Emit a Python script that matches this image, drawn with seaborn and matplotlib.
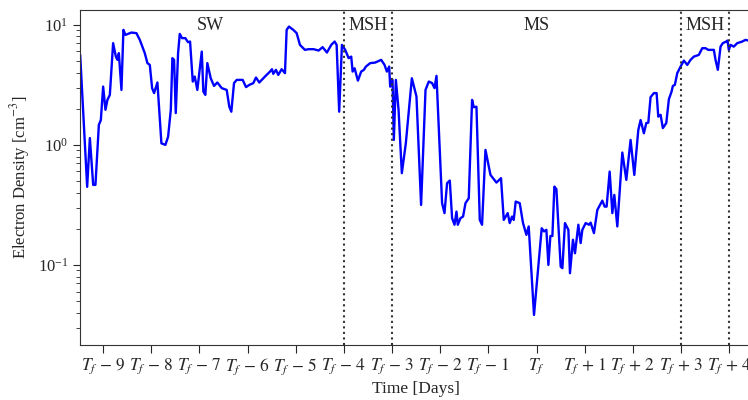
import pandas as pd
import matplotlib
matplotlib.use('Agg')
import matplotlib.pyplot as plt
import seaborn as sns

# Tempo relativo a T_f (dias) e densidade eletrônica (cm^-3)
tempo = [
    -9.477, -9.332, -9.276, -9.207, -9.160, -9.089, -9.048, -9.000, -8.952, -8.911,
    -8.861, -8.793, -8.736, -8.703, -8.674, -8.620, -8.579, -8.537, -8.413, -8.309,
    -8.239, -8.135, -8.081, -8.031, -7.983, -7.942, -7.873, -7.790, -7.707, -7.651,
    -7.595, -7.562, -7.527, -7.492, -7.444, -7.409, -7.361, -7.293, -7.237, -7.195,
    -7.139, -7.098, -7.044, -6.952, -6.919, -6.878, -6.836, -6.766, -6.697, -6.629,
    -6.537, -6.434, -6.380, -6.338, -6.282, -6.226, -6.102, -6.033, -5.965, -5.882,
    -5.826, -5.757, -5.639, -5.535, -5.494, -5.467, -5.411, -5.363, -5.293, -5.224,
    -5.189, -5.141, -5.052, -4.981, -4.913, -4.809, -4.732, -4.629, -4.525, -4.442,
    -4.353, -4.263, -4.193, -4.151, -4.098, -4.041, -3.973, -3.902, -3.848, -3.819,
    -3.778, -3.709, -3.641, -3.585, -3.544, -3.454, -3.351, -3.226, -3.156, -3.108,
    -3.060, -3.039, -2.990, -2.963, -2.921, -2.865, -2.797, -2.714, -2.589, -2.493,
    -2.397, -2.305, -2.237, -2.168, -2.118, -2.077, -1.961, -1.911, -1.857, -1.801,
    -1.753, -1.703, -1.662, -1.635, -1.579, -1.525, -1.475, -1.407, -1.338, -1.303,
    -1.247, -1.178, -1.131, -1.060, -0.956, -0.832, -0.737, -0.680, -0.598, -0.556,
    -0.508, -0.473, -0.432, -0.349, -0.280, -0.210, -0.162, -0.052, 0.108, 0.156,
    0.205, 0.247, 0.288, 0.330, 0.371, 0.413, 0.502, 0.537, 0.591, 0.662,
    0.695, 0.757, 0.799, 0.869, 0.917, 0.952, 1.021, 1.089, 1.124, 1.193,
    1.263, 1.367, 1.415, 1.456, 1.519, 1.575, 1.616, 1.678, 1.782, 1.865,
    1.954, 2.031, 2.114, 2.162, 2.230, 2.280, 2.322, 2.369, 2.438, 2.494,
    2.529, 2.577, 2.624, 2.695, 2.749, 2.805, 2.832, 2.873, 2.923, 2.992,
    3.060, 3.131, 3.199, 3.268, 3.371, 3.442, 3.510, 3.566, 3.683, 3.718,
    3.766, 3.822, 3.869, 3.940, 3.967, 3.994, 4.029, 4.098, 4.168, 4.272,
    4.340, 4.402,
]
densidade = [
    5.62, 0.447, 1.14, 0.464, 0.464, 1.47, 1.61, 3.06, 1.96, 2.37,
    2.61, 7.04, 5.44, 5.11, 5.81, 2.87, 9.09, 8.25, 8.63, 8.53,
    7.50, 5.81, 4.80, 4.64, 2.97, 2.70, 3.31, 1.03, 1.00, 1.17,
    1.96, 5.28, 5.11, 1.84, 5.81, 8.41, 7.75, 7.75, 7.17, 7.26,
    3.37, 3.71, 2.87, 5.99, 2.78, 2.61, 4.80, 3.59, 3.10, 3.31,
    2.97, 2.87, 2.08, 1.89, 3.27, 3.48, 3.48, 3.03, 3.16, 3.27,
    3.64, 3.31, 3.71, 4.08, 4.27, 3.91, 4.22, 3.83, 4.27, 3.96,
    9.09, 9.68, 9.09, 8.53, 6.81, 6.19, 6.27, 6.27, 6.11, 6.52,
    5.88, 6.81, 7.26, 6.81, 1.89, 6.81, 6.19, 5.28, 5.44, 4.08,
    4.35, 3.43, 4.08, 4.22, 4.49, 4.80, 4.85, 5.11, 4.64, 4.08,
    4.49, 3.06, 3.48, 1.10, 3.48, 1.96, 0.581, 1.03, 3.59, 2.53,
    0.316, 2.87, 3.37, 3.27, 2.97, 3.76, 0.327, 0.270, 0.480, 0.504,
    0.245, 0.216, 0.278, 0.216, 0.245, 0.253, 0.327, 0.359, 2.37, 2.06,
    2.08, 0.237, 0.216, 0.908, 0.562, 0.485, 0.528, 0.237, 0.270, 0.223,
    0.253, 0.237, 0.337, 0.327, 0.223, 0.178, 0.209, 0.0383, 0.202, 0.190,
    0.196, 0.100, 0.174, 0.174, 0.449, 0.428, 0.0968, 0.0939, 0.223, 0.196,
    0.0853, 0.162, 0.125, 0.216, 0.152, 0.196, 0.223, 0.216, 0.225, 0.184,
    0.287, 0.343, 0.306, 0.306, 0.599, 0.270, 0.383, 0.209, 0.863, 0.511,
    1.10, 0.562, 1.33, 1.61, 1.25, 1.52, 1.53, 2.50, 2.70, 2.70,
    1.72, 1.78, 1.38, 1.52, 2.40, 2.78, 3.10, 3.16, 3.96, 4.49,
    5.04, 4.64, 5.11, 5.44, 5.62, 6.39, 6.39, 6.19, 6.19, 5.11,
    4.22, 6.59, 7.04, 7.26, 7.40, 6.19, 6.81, 6.59, 7.04, 7.26,
    7.50, 7.40,
]

# Limites das regiões (dias) e rótulos
fronteiras = [-4, -3, 3, 4]
regioes = ['SW', 'MSH', 'MS', 'MSH']
pos_regioes = [-6.78, -3.5, 0.0, 3.5]

ticks_x = list(range(-9, 5))
rotulos_x = [r'$T_f$' if d == 0 else (r'$T_f\,-\,%d$' % -d if d < 0 else r'$T_f\,+\,%d$' % d)
             for d in ticks_x]

df = pd.DataFrame({'Tempo': tempo, 'Densidade': densidade})

sns.set_style('ticks')
plt.rcParams['font.family'] = ['Liberation Serif', 'DejaVu Serif']
plt.rcParams['mathtext.fontset'] = 'stix'

fig = plt.figure(figsize=(7.48, 4.0), dpi=100)
ax = fig.add_axes([0.107, 0.1375, 0.898, 0.8375])

sns.lineplot(x='Tempo', y='Densidade', data=df, color='#0000ff', linewidth=1.7,
             ax=ax, estimator=None, sort=False)

for f in fronteiras:
    ax.axvline(f, color='#333333', linestyle=':', linewidth=1.5)

for nome, xp in zip(regioes, pos_regioes):
    ax.text(xp, 9.8, nome, ha='center', va='center', fontsize=13)

ax.set_yscale('log')
ax.set_xlim(-9.48, 4.47)
ax.set_ylim(0.0215, 13.3)
ax.set_xticks(ticks_x)
ax.set_xticklabels(rotulos_x, fontsize=12.5)
ax.tick_params(axis='x', length=6, pad=2)
ax.tick_params(axis='y', labelsize=12, length=5)
ax.tick_params(axis='y', which='minor', length=3)
ax.set_xlabel('Time [Days]', fontsize=12.5, labelpad=3)
ax.set_ylabel(r'Electron Density [cm$^{-3}$]', fontsize=12)

for s in ax.spines.values():
    s.set_color('#333333')

fig.savefig('out.png', dpi=100)
